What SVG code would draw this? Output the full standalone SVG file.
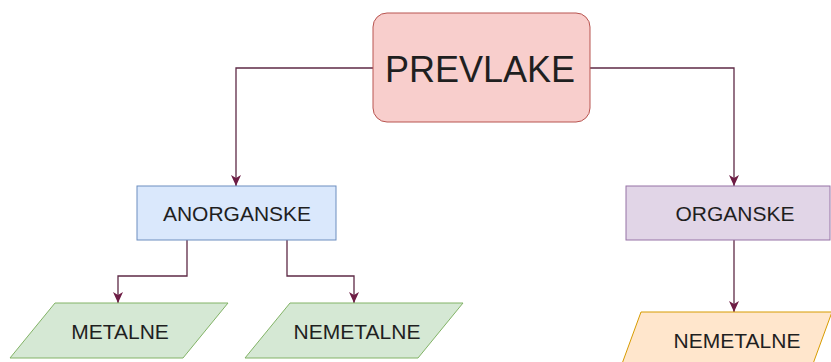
<svg xmlns="http://www.w3.org/2000/svg" width="831" height="362" viewBox="0 0 831 362">
<defs>
<marker id="arr" markerWidth="12" markerHeight="12" viewBox="0 0 12 12" refX="11" refY="6" orient="auto" markerUnits="userSpaceOnUse">
<path d="M0,1 L11,6 L0,11 L3,6 Z" fill="#6e1d45"/>
</marker>
<style>
text{font-family:"Liberation Sans",Arial,sans-serif;fill:#1f1f1f;text-anchor:middle}
.lbl{font-size:21px}
.edge{fill:none;stroke:#5e2a46;stroke-width:1.3;marker-end:url(#arr)}
</style>
</defs>
<rect width="831" height="362" fill="#ffffff"/>
<g id="connectors">
<path class="edge" d="M373,68 H236 V186"/>
<path class="edge" d="M590,68 H734 V186"/>
<path class="edge" d="M187,240 V276 H118 V303"/>
<path class="edge" d="M287,240 V276 H354 V303"/>
<path class="edge" d="M734,240 V312"/>
</g>
<g id="prevlake">
<rect x="373" y="13" width="217" height="109" rx="14" fill="#f8cecc" stroke="#b85450" stroke-width="1"/>
<text x="480" y="82" style="font-size:36px">PREVLAKE</text>
</g>
<g id="anorganske">
<rect x="137" y="186" width="199" height="54" fill="#dae8fc" stroke="#6c8ebf" stroke-width="1"/>
<text class="lbl" x="237" y="221">ANORGANSKE</text>
</g>
<g id="organske">
<rect x="626" y="186" width="204" height="54" fill="#e1d5e7" stroke="#9673a6" stroke-width="1"/>
<text class="lbl" x="735" y="221">ORGANSKE</text>
</g>
<g id="metalne">
<polygon points="55,303 228,303 183,358 10,358" fill="#d5e8d4" stroke="#82b366" stroke-width="1"/>
<text class="lbl" x="120" y="339">METALNE</text>
</g>
<g id="nemetalne-left">
<polygon points="290,303 463,303 418,358 245,358" fill="#d5e8d4" stroke="#82b366" stroke-width="1"/>
<text class="lbl" x="357" y="339">NEMETALNE</text>
</g>
<g id="nemetalne-right">
<polygon points="641,312 832,312 810,372 619,372" fill="#ffe6cc" stroke="#d79b00" stroke-width="1"/>
<text class="lbl" x="737" y="348">NEMETALNE</text>
</g>
</svg>
